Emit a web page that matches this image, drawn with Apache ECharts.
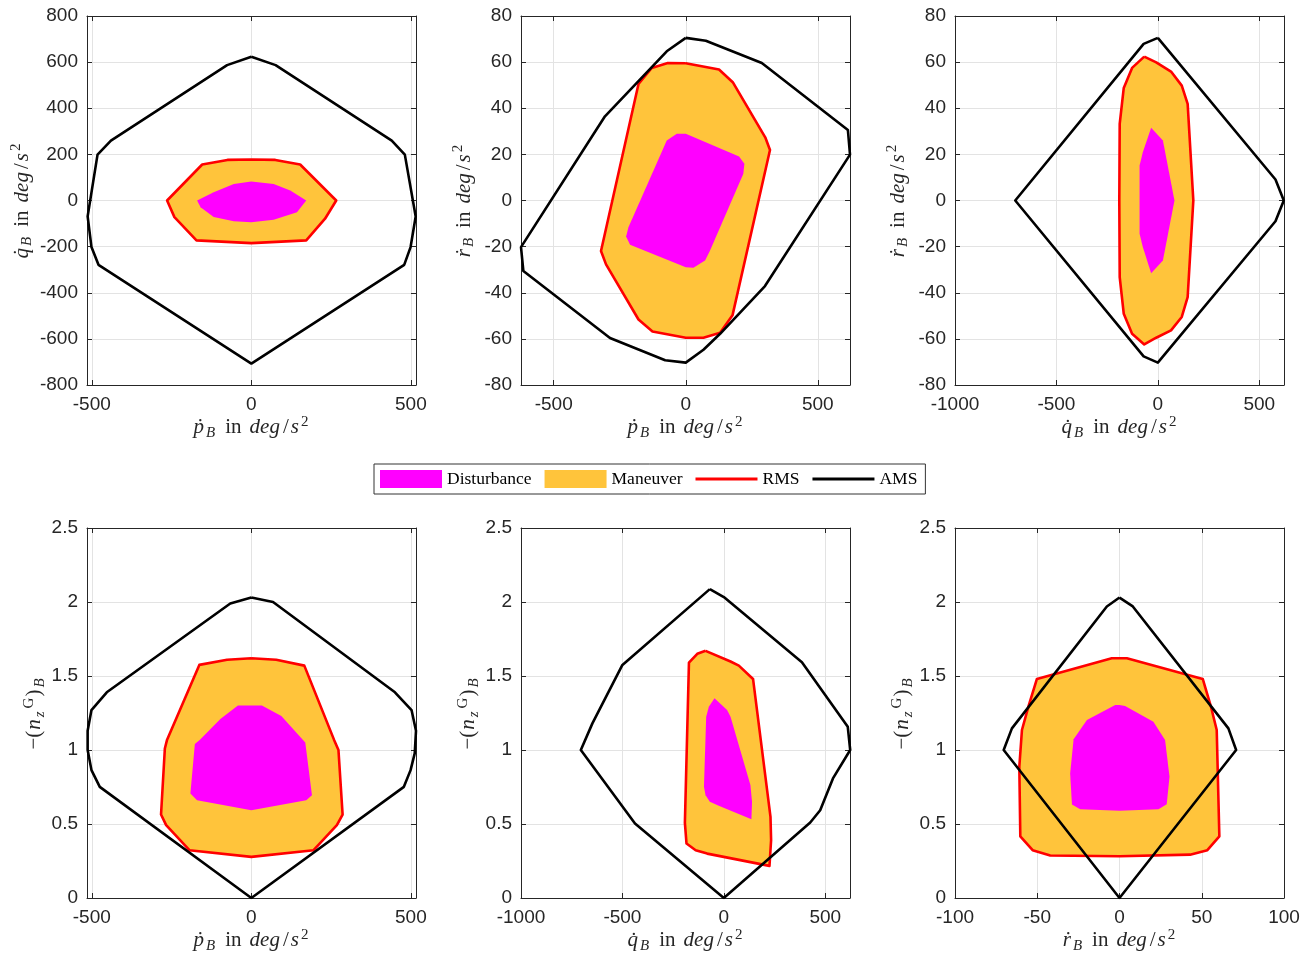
<!DOCTYPE html>
<html><head><meta charset="utf-8">
<script src="https://cdn.jsdelivr.net/npm/echarts@6/dist/echarts.min.js"></script>
<style>html,body{margin:0;padding:0;background:#fff}#c{width:1309px;height:958px}</style>
</head><body><div id="c"></div>
<script>
// ---------- data ----------
const seriesNames = ['Disturbance', 'Maneuver', 'RMS', 'AMS'];

// Panel 1: p_dot vs q_dot
const p1Dist = [[0,82],[70,72],[122,43],[172,0],[143,-51],[70,-84],[0,-94],[-55,-90],[-118,-72],[-159,-29],[-170,0],[-118,36],[-55,72],[0,82]];
const p1Man  = [[0,178],[75,176],[153,156],[266,0],[231,-79],[172,-173],[0,-185],[-172,-173],[-241,-72],[-264,0],[-154,156],[-75,176],[0,178]];
const p1Ams  = [[0,623],[76,587],[440,260],[481,199],[515,-69],[499,-202],[479,-279],[0,-707],[-479,-279],[-501,-202],[-513,-69],[-482,199],[-440,260],[-76,587],[0,623]];
// Panel 2: p_dot vs r_dot
const p2Dist = [[0,28.9],[202,19.1],[222,15.9],[218,11.6],[92,-21.7],[73,-26],[29,-29.2],[0,-28.9],[-211,-19.2],[-226,-15.6],[-217,-11.6],[-72,26],[-34,28.9],[0,28.9]];
const p2Man  = [[0,59.5],[126,56.8],[178,51.3],[301,27.4],[319,21.9],[177,-49.8],[130,-57.3],[67,-59.5],[0,-59.5],[-126,-56.8],[-179,-51.6],[-302,-27.7],[-321,-21.9],[-179,50.5],[-129,57.5],[-68,59.6],[0,59.5]];
const p2Ams  = [[0,70.5],[76,69.3],[288,59.6],[614,30.6],[622,19.9],[300,-37.1],[130,-57.8],[67,-64.7],[0,-70.3],[-78,-69.3],[-287,-59.6],[-615,-30.6],[-624,-20.2],[-306,36.5],[-72,64.7],[0,70.5]];
// Panel 3: q_dot vs r_dot
const p3Dist = [[-33,31.5],[25,26],[82,0],[25,-26],[-33,-31.5],[-74,-20.2],[-90,-14.4],[-90,15.2],[-74,20.9],[-33,31.5]];
const p3Man  = [[-67,62.4],[-8,59.9],[65,55.9],[118,49.8],[147,41.9],[175,0],[147,-41.9],[118,-50.5],[65,-56.3],[-8,-59.5],[-67,-62.4],[-127,-57.8],[-168,-49.1],[-188,-33.2],[-190,0],[-188,33.2],[-168,48.8],[-127,57.5],[-67,62.4]];
const p3Ams  = [[0,70.5],[580,9.1],[621,0],[580,-9],[0,-70.3],[-70,-67.6],[-703,0],[-70,67.9],[0,70.5]];
// Panel 4: p_dot vs -(nz)
const p4Dist = [[-42,1.30],[33,1.30],[94,1.23],[169,1.05],[190,0.695],[172,0.661],[0,0.593],[-170,0.661],[-191,0.706],[-177,1.04],[-161,1.07],[-97,1.21],[-42,1.30]];
const p4Man  = [[0,1.62],[78,1.61],[166,1.57],[259,1.07],[273,1.0],[286,0.564],[268,0.492],[195,0.323],[0,0.278],[-194,0.323],[-267,0.492],[-283,0.564],[-271,1.01],[-264,1.07],[-163,1.575],[-76,1.61],[0,1.62]];
const p4Ams  = [[0,2.03],[68,2.0],[450,1.39],[502,1.27],[516,1.13],[512,0.977],[499,0.864],[478,0.751],[0,0],[-475,0.751],[-501,0.864],[-513,1.0],[-513,1.13],[-501,1.27],[-453,1.39],[-66,1.99],[0,2.03]];
// Panel 5: q_dot vs -(nz)
const p5Dist = [[-46,1.349],[16,1.27],[33,1.225],[131,0.763],[139,0.65],[136,0.532],[-25,0.623],[-69,0.65],[-90,0.695],[-98,0.751],[-87,1.225],[-74,1.293],[-46,1.349]];
const p5Man  = [[-90,1.67],[33,1.598],[74,1.57],[144,1.48],[230,0.548],[233,0.39],[225,0.217],[-82,0.30],[-139,0.323],[-184,0.368],[-192,0.508],[-172,1.59],[-131,1.65],[-90,1.67]];
const p5Ams  = [[-69,2.087],[0,2.033],[385,1.593],[611,1.157],[623,1.0],[538,0.808],[475,0.593],[426,0.51],[0,0],[-438,0.503],[-705,1.0],[-648,1.18],[-500,1.575],[-69,2.087]];
// Panel 6: r_dot vs -(nz)
const p6Dist = [[0,1.304],[3.4,1.297],[20.6,1.191],[27.7,1.067],[30.4,0.819],[28.7,0.634],[23.7,0.6],[0,0.589],[-23.9,0.6],[-28.9,0.632],[-30,0.842],[-27.9,1.072],[-19.8,1.203],[-2.6,1.304],[0,1.304]];
const p6Man  = [[0,1.62],[4.5,1.62],[50.6,1.48],[55.5,1.297],[59.1,1.135],[60.7,0.417],[53.4,0.323],[42.9,0.293],[0,0.282],[-42.1,0.287],[-52.8,0.323],[-60.3,0.417],[-60.9,0.887],[-59.3,1.135],[-55.3,1.297],[-50.2,1.48],[-4.7,1.62],[0,1.62]];
const p6Ams  = [[0,2.03],[8.1,1.97],[66.2,1.146],[70.9,1.0],[0,0],[-70.4,1.0],[-65.4,1.146],[-7.7,1.97],[0,2.03]];

// axis ranges and tick labels
const xTicksP = [-500, 0, 500];
const xTicksQ = [-1000, -500, 0, 500];
const xTicksR = [-100, -50, 0, 50, 100];
const yTicksRate = [-800, -600, -400, -200, 0, 200, 400, 600, 800];
const yTicksR = [-80, -60, -40, -20, 0, 20, 40, 60, 80];
const yTicksNz = [0, 0.5, 1, 1.5, 2, 2.5];
const xRangeP1 = [-515, 516];
const xRangeP2 = [-624, 622];
const xRangeQ = [-1000, 622];
const xRangeR = [-100, 100];

// axis titles (rich text)
const nameP = '{v|ṗ}{s|B}{r|in}{v|deg}{sl|/}{v|s}{p|2}';
const nameQ = '{v|q̇}{s|B}{r|in}{v|deg}{sl|/}{v|s}{p|2}';
const nameR = '{v|ṙ}{s|B}{r|in}{v|deg}{sl|/}{v|s}{p|2}';
const nameNz = '{m|−}{r0|(}{v|n}{s|z}{p|G}{r0|)}{s|B}';

// ---------- layout ----------
const GRID_W = 329;
const colLeft = [87, 521, 955];
const rowTop = [16, 528];
const rowH = [369, 370];

const panels = [
  {dist:p1Dist, man:p1Man, ams:p1Ams, xr:xRangeP1, xt:xTicksP, yr:[-800,800], yt:yTicksRate, xn:nameP, yn:nameQ, ygap:52},
  {dist:p2Dist, man:p2Man, ams:p2Ams, xr:xRangeP2, xt:xTicksP, yr:[-80,80], yt:yTicksR, xn:nameP, yn:nameR, ygap:44},
  {dist:p3Dist, man:p3Man, ams:p3Ams, xr:xRangeQ, xt:xTicksQ, yr:[-80,80], yt:yTicksR, xn:nameQ, yn:nameR, ygap:44},
  {dist:p4Dist, man:p4Man, ams:p4Ams, xr:xRangeP1, xt:xTicksP, yr:[0,2.5], yt:yTicksNz, xn:nameP, yn:nameNz, ygap:36},
  {dist:p5Dist, man:p5Man, ams:p5Ams, xr:xRangeQ, xt:xTicksQ, yr:[0,2.5], yt:yTicksNz, xn:nameQ, yn:nameNz, ygap:36},
  {dist:p6Dist, man:p6Man, ams:p6Ams, xr:xRangeR, xt:xTicksR, yr:[0,2.5], yt:yTicksNz, xn:nameR, yn:nameNz, ygap:38}
];

const AX = '#262626';
const GRIDC = '#e3e3e3';
const SERIF = 'Liberation Serif';
const rich = {
  v: {fontFamily: SERIF, fontStyle: 'italic', fontSize: 21, lineHeight: 26, color: AX, padding: [0, 1, 0, 0]},
  r: {fontFamily: SERIF, fontSize: 21, lineHeight: 26, color: AX, padding: [0, 8, 0, 8]},
  r0: {fontFamily: SERIF, fontSize: 21, lineHeight: 26, color: AX, padding: [0, 1, 0, 0]},
  m: {fontFamily: SERIF, fontSize: 21, lineHeight: 26, color: AX, padding: [0, 0, 0, 0]},
  sl: {fontFamily: SERIF, fontSize: 21, lineHeight: 26, color: AX, padding: [0, 2, 0, 2]},
  s: {fontFamily: SERIF, fontStyle: 'italic', fontSize: 15, lineHeight: 15, verticalAlign: 'bottom', color: AX, padding: [0, 2, 0, 1]},
  p: {fontFamily: SERIF, fontSize: 15, lineHeight: 15, verticalAlign: 'top', color: AX, padding: [0, 1, 0, 1]}
};
const labelFont = {fontFamily: 'Liberation Sans', fontSize: 19, color: AX};
const fmt = function (v) { return String(v); };

const grid = [], xAxis = [], yAxis = [], series = [];

function polygonSeries(name, g, pts, color, z) {
  return {
    type: 'custom', name: name, xAxisIndex: 2*g, yAxisIndex: 2*g, z: z,
    silent: true, clip: true,
    itemStyle: {color: color},
    encode: {x: 0, y: 1},
    data: pts,
    renderItem: function (params, api) {
      if (params.dataIndex !== 0) return null;
      const p = pts.map(function (d) { return api.coord(d); });
      return {type: 'polygon', shape: {points: p}, style: {fill: color, stroke: null}};
    }
  };
}
function lineSeries(name, g, pts, color, z) {
  return {
    type: 'line', name: name, xAxisIndex: 2*g, yAxisIndex: 2*g, z: z,
    data: pts, symbol: 'none', showSymbol: false, smooth: false, silent: true,
    lineStyle: {color: color, width: 2.6, join: 'round'},
    itemStyle: {color: color}
  };
}

panels.forEach(function (P, g) {
  const col = g % 3, row = Math.floor(g / 3);
  grid.push({left: colLeft[col], top: rowTop[row], width: GRID_W, height: rowH[row], containLabel: false, show: false});
  const yInt = P.yt[1] - P.yt[0];
  xAxis.push({
    type: 'value', gridIndex: g, position: 'bottom', min: P.xr[0], max: P.xr[1],
    name: P.xn, nameLocation: 'middle', nameGap: 27, nameTextStyle: {rich: rich},
    axisLine: {onZero: false, lineStyle: {color: AX, width: 1}},
    axisTick: {inside: true, length: 5, customValues: P.xt, lineStyle: {color: AX}},
    axisLabel: {customValues: P.xt, margin: 10, formatter: fmt, ...labelFont},
    splitLine: {show: true, lineStyle: {color: GRIDC, width: 1}}
  });
  xAxis.push({
    type: 'value', gridIndex: g, position: 'top', min: P.xr[0], max: P.xr[1],
    axisLine: {onZero: false, lineStyle: {color: AX, width: 1}},
    axisTick: {inside: true, length: 5, customValues: P.xt, lineStyle: {color: AX}},
    axisLabel: {show: false}, splitLine: {show: false}
  });
  yAxis.push({
    type: 'value', gridIndex: g, position: 'left', min: P.yr[0], max: P.yr[1], interval: yInt,
    name: P.yn, nameLocation: 'middle', nameGap: P.ygap, nameTextStyle: {rich: rich},
    axisLine: {onZero: false, lineStyle: {color: AX, width: 1}},
    axisTick: {inside: true, length: 5, lineStyle: {color: AX}},
    axisLabel: {margin: 9, formatter: fmt, ...labelFont},
    splitLine: {show: true, lineStyle: {color: GRIDC, width: 1}}
  });
  yAxis.push({
    type: 'value', gridIndex: g, position: 'right', min: P.yr[0], max: P.yr[1], interval: yInt,
    axisLine: {onZero: false, lineStyle: {color: AX, width: 1}},
    axisTick: {inside: true, length: 5, lineStyle: {color: AX}},
    axisLabel: {show: false}, splitLine: {show: false}
  });
  series.push(polygonSeries(seriesNames[1], g, P.man, '#FFC43B', 2));
  series.push(polygonSeries(seriesNames[0], g, P.dist, '#FF00FF', 3));
  series.push(lineSeries(seriesNames[2], g, P.man, '#FF0000', 4));
  series.push(lineSeries(seriesNames[3], g, P.ams, '#000000', 5));
});

const LINE_ICON = 'path://M0,0H62V3H0Z';
const chart = echarts.init(document.getElementById('c'), null, {renderer: 'canvas'});
chart.setOption({
  animation: false,
  backgroundColor: '#ffffff',
  legend: {
    left: 374, top: 464,
    data: [{name: seriesNames[0], icon: 'rect'}, {name: seriesNames[1], icon: 'rect'},
           {name: seriesNames[2], icon: LINE_ICON}, {name: seriesNames[3], icon: LINE_ICON}],
    itemWidth: 62, itemHeight: 18, itemGap: 13, symbolKeepAspect: true,
    padding: [6, 8, 6, 6],
    borderColor: '#333', borderWidth: 1,
    selectedMode: false,
    textStyle: {fontFamily: SERIF, fontSize: 17.5, color: '#000'}
  },
  grid: grid, xAxis: xAxis, yAxis: yAxis, series: series
});
</script>
</body></html>
